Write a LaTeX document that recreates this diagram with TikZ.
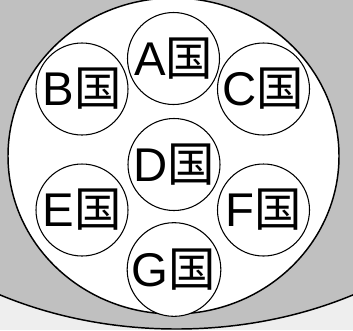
\documentclass[tikz,border=0pt]{standalone}
\usepackage{fontspec}
\setmainfont{Liberation Sans}
\newfontfamily\cjk{Noto Sans CJK SC}
\definecolor{bgpale}{HTML}{EEEEEE}
\definecolor{bggray}{HTML}{C0C0C0}

\begin{document}
\begin{tikzpicture}[
  x=0.75pt,
  y=-0.75pt,
  line cap=round,
  line join=round,
  every node/.style={font=\fontsize{35.5}{35.5}\selectfont},
  country/.style={circle, draw, line width=0.8pt, fill=white,
    minimum size=69pt, inner sep=0pt}
]
  \useasboundingbox (0,0) rectangle (353,330);

  % Светлый фон в нижних углах
  \fill[bgpale] (0,0) rectangle (353,330);

  % Серая область с нижней дугой
  \begin{scope}
    \clip (0,0) rectangle (353,330);
    \filldraw[fill=bggray, line width=1.1pt]
      (176.5,63) ellipse [x radius=360, y radius=266];
  \end{scope}

  % Большой белый овал
  \filldraw[fill=white, line width=1.1pt]
    (173.5,156) ellipse [x radius=165.5, y radius=158];

  % Центры кружков
  \coordinate (cA) at (173.5, 58.5);
  \coordinate (cB) at ( 82.0, 89.0);
  \coordinate (cC) at (263.5, 89.0);
  \coordinate (cD) at (174.0,164.5);
  \coordinate (cE) at ( 82.0,210.0);
  \coordinate (cF) at (263.5,210.0);
  \coordinate (cG) at (174.0,269.5);

  % Кружки стран
  \node[country] (A) at (cA) {A{\cjk 国}};
  \node[country] (B) at (cB) {B{\cjk 国}};
  \node[country] (C) at (cC) {C{\cjk 国}};
  \node[country] (D) at (cD) {D{\cjk 国}};
  \node[country] (E) at (cE) {E{\cjk 国}};
  \node[country] (F) at (cF) {F{\cjk 国}};
  \node[country] (G) at (cG) {G{\cjk 国}};
\end{tikzpicture}
\end{document}
